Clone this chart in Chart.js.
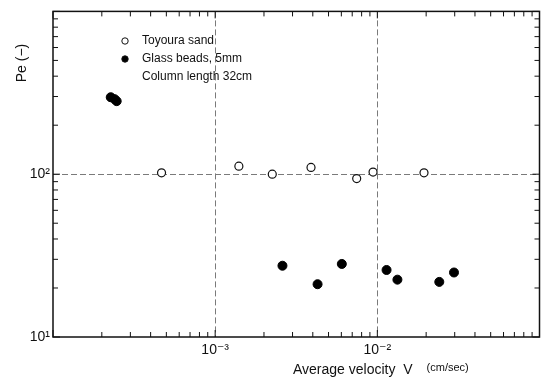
<!DOCTYPE html>
<html>
<head>
<meta charset="utf-8">
<script src="https://cdn.jsdelivr.net/npm/chart.js@4/dist/chart.umd.min.js"></script>
<style>
  body { margin: 0; background: #fff; }
  #wrap { width: 545px; height: 382px; }
</style>
</head>
<body>
<div id="wrap"><canvas id="peChart" width="545" height="382"></canvas></div>
<script>
// Toyoura sand (open circles)
const sandVelocity = [4.67e-4, 1.40e-3, 2.25e-3, 3.90e-3, 7.46e-3, 9.41e-3, 1.94e-2];
const sandPe = [102, 112, 100, 110, 94, 103, 102];

// Glass beads 5mm (filled circles)
const beadVelocity = [2.27e-4, 2.40e-4, 2.47e-4, 2.60e-3, 4.28e-3, 6.04e-3, 1.14e-2, 1.33e-2, 2.41e-2, 2.97e-2];
const beadPe = [297, 289, 281, 27.4, 21.1, 28.1, 25.8, 22.5, 21.8, 24.9];

// axis ranges and labelled ticks
const xRange = [1e-4, 1e-1];
const yRange = [10, 1000];
const xTickLabels = { "-3": "10\u207B\u00B3", "-2": "10\u207B\u00B2" };
const yTickLabels = { "1": "10\u00B9", "2": "10\u00B2" };

const legendLines = ["Toyoura sand", "Glass beads, 5mm", "Column length 32cm"];
const fontFamily = "'Liberation Sans', 'DejaVu Sans', sans-serif";

function toPoints(xs, ys) {
    return xs.map((x, i) => ({ x: x, y: ys[i] }));
}

// every 1..9 x 10^k between min and max, used for the minor tick marks
function allLogTicks(min, max) {
    const ticks = [];
    for (let e = Math.floor(Math.log10(min)); e <= Math.ceil(Math.log10(max)); e++) {
        for (let m = 1; m <= 9; m++) {
            const v = m * Math.pow(10, e);
            if (v >= min * 0.999 && v <= max * 1.001) ticks.push({ value: v });
        }
    }
    return ticks;
}

function isDecade(v) {
    const l = Math.log10(v);
    return Math.abs(l - Math.round(l)) < 1e-6;
}

function decadeLabel(labels) {
    return v => (isDecade(v) && labels[String(Math.round(Math.log10(v)))]) || '';
}

// interior gridlines only on decades
function gridColor(range) {
    return function(ctx) {
        const v = ctx.tick && ctx.tick.value;
        if (v && isDecade(v) && v > range[0] * 1.001 && v < range[1] * 0.999) return '#7a7a7a';
        return 'rgba(0,0,0,0)';
    };
}

// frame, inward tick marks, legend and axis titles
const framePlugin = {
    id: 'frame',
    afterDraw(chart) {
        const ctx = chart.ctx;
        const a = chart.chartArea;
        const xs = chart.scales.x, ys = chart.scales.y;
        ctx.save();
        ctx.strokeStyle = '#111';
        ctx.lineWidth = 1.5;
        ctx.strokeRect(a.left, a.top, a.right - a.left, a.bottom - a.top);

        ctx.lineWidth = 1;
        xs.ticks.forEach(t => {
            const px = xs.getPixelForValue(t.value);
            const len = isDecade(t.value) ? 7 : 5;
            ctx.beginPath();
            ctx.moveTo(px, a.bottom); ctx.lineTo(px, a.bottom - len);
            ctx.moveTo(px, a.top); ctx.lineTo(px, a.top + len);
            ctx.stroke();
        });
        ys.ticks.forEach(t => {
            const py = ys.getPixelForValue(t.value);
            const len = isDecade(t.value) ? 7 : 5;
            ctx.beginPath();
            ctx.moveTo(a.left, py); ctx.lineTo(a.left + len, py);
            ctx.moveTo(a.right, py); ctx.lineTo(a.right - len, py);
            ctx.stroke();
        });

        // legend
        const lx = 125, ly = 41, step = 18;
        chart.data.datasets.forEach((ds, i) => {
            ctx.fillStyle = ds.pointBackgroundColor;
            ctx.strokeStyle = '#111';
            ctx.beginPath();
            ctx.arc(lx, ly + i * step, 3.2, 0, Math.PI * 2);
            ctx.fill();
            ctx.stroke();
        });
        ctx.fillStyle = '#111';
        ctx.font = '12px ' + fontFamily;
        ctx.textBaseline = 'middle';
        ctx.textAlign = 'left';
        legendLines.forEach((txt, i) => ctx.fillText(txt, 142, ly + i * step));

        // x title
        ctx.font = '14px ' + fontFamily;
        const xt = 'Average velocity  V';
        ctx.fillText(xt, 293, 370);
        const w = ctx.measureText(xt).width;
        ctx.font = '11px ' + fontFamily;
        ctx.fillText('(cm/sec)', 293 + w + 14, 368);

        // y title
        ctx.translate(22, 63);
        ctx.rotate(-Math.PI / 2);
        ctx.textAlign = 'center';
        ctx.font = '14px ' + fontFamily;
        ctx.fillText('Pe (\u2212)', 0, 0);
        ctx.restore();
    }
};

const chart = new Chart(document.getElementById('peChart'), {
    type: 'scatter',
    data: {
        datasets: [
            {
                label: 'Toyoura sand',
                data: toPoints(sandVelocity, sandPe),
                pointRadius: 4,
                pointBorderWidth: 1.2,
                pointBorderColor: '#111',
                pointBackgroundColor: '#fff'
            },
            {
                label: 'Glass beads, 5mm',
                data: toPoints(beadVelocity, beadPe),
                pointRadius: 4.5,
                pointBorderWidth: 1,
                pointBorderColor: '#000',
                pointBackgroundColor: '#000'
            }
        ]
    },
    options: {
        responsive: false,
        animation: false,
        layout: { padding: { top: 8, right: 3, left: 0, bottom: 0 } },
        plugins: {
            legend: { display: false },
            tooltip: { enabled: false }
        },
        scales: {
            x: {
                type: 'logarithmic',
                min: xRange[0],
                max: xRange[1],
                afterBuildTicks: s => { s.ticks = allLogTicks(xRange[0], xRange[1]); },
                afterFit: s => { s.height = 45; },
                border: { display: false, dash: [6, 3] },
                grid: { color: gridColor(xRange), drawTicks: false, lineWidth: 1 },
                ticks: {
                    autoSkip: false,
                    maxRotation: 0,
                    padding: 5,
                    color: '#111',
                    font: { family: fontFamily, size: 14 },
                    callback: decadeLabel(xTickLabels)
                }
            },
            y: {
                type: 'logarithmic',
                min: yRange[0],
                max: yRange[1],
                afterBuildTicks: s => { s.ticks = allLogTicks(yRange[0], yRange[1]); },
                afterFit: s => { s.width = 53; },
                border: { display: false, dash: [6, 3] },
                grid: { color: gridColor(yRange), drawTicks: false, lineWidth: 1 },
                ticks: {
                    autoSkip: false,
                    padding: 3,
                    color: '#111',
                    font: { family: fontFamily, size: 14 },
                    callback: decadeLabel(yTickLabels)
                }
            }
        }
    },
    plugins: [framePlugin]
});
</script>
</body>
</html>
